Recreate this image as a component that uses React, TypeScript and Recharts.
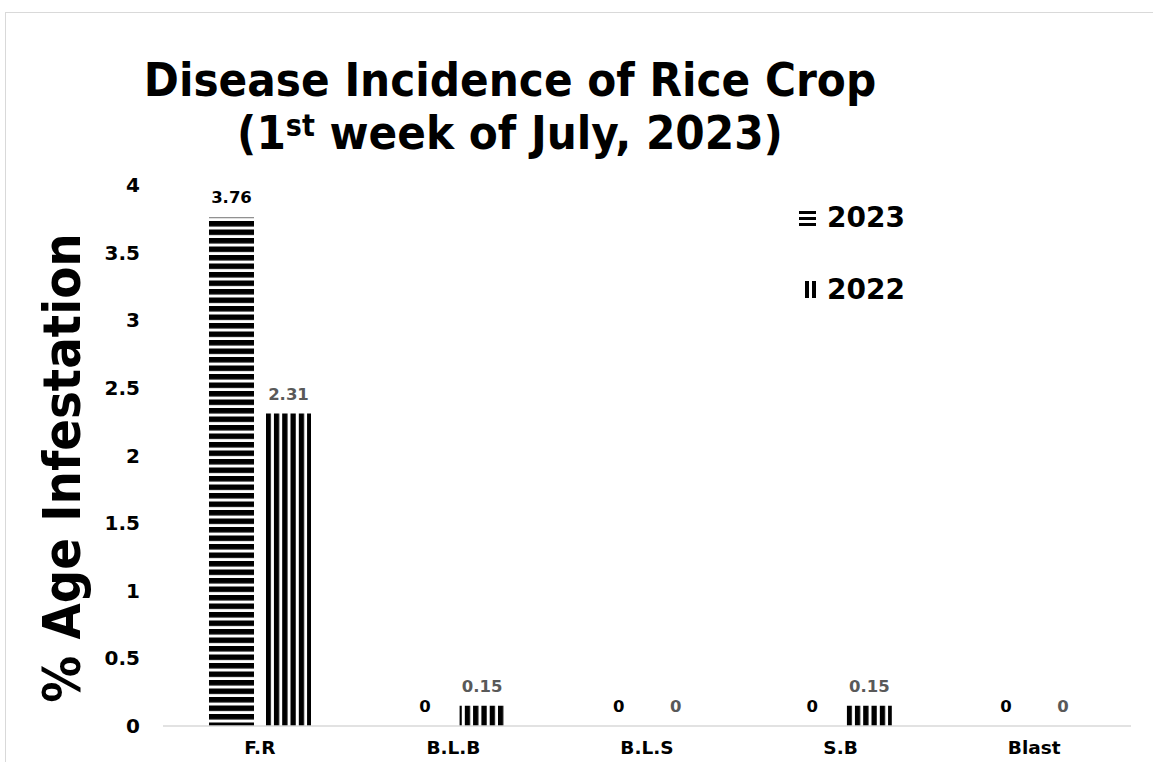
import React from 'react'
import { BarChart, Bar, XAxis, YAxis, LabelList } from 'recharts'

const categories = ['F.R', 'B.L.B', 'B.L.S', 'S.B', 'Blast']
const values2023 = [3.76, 0, 0, 0, 0]
const values2022 = [2.31, 0.15, 0, 0.15, 0]
const yTicks = [0, 0.5, 1, 1.5, 2, 2.5, 3, 3.5, 4]

const data = categories.map((name, i) => ({
  name,
  y2023: values2023[i],
  y2022: values2022[i],
}))

const COND = "'DejaVu Sans Condensed', 'DejaVu Sans', sans-serif"
const WIDE = "'DejaVu Sans', sans-serif"

const LegendBox = () => (
  <div style={{ position: 'absolute', left: 798, top: 197, fontFamily: WIDE, fontWeight: 'bold', fontSize: 28, color: '#000' }}>
    <div style={{ display: 'flex', alignItems: 'center', height: 40 }}>
      <svg width={19} height={17} style={{ marginRight: 10 }}>
        <rect x={1} y={2} width={17} height={3} fill="#000" />
        <rect x={1} y={8} width={17} height={3} fill="#000" />
        <rect x={1} y={14} width={17} height={3} fill="#000" />
      </svg>
      <span>2023</span>
    </div>
    <div style={{ display: 'flex', alignItems: 'center', height: 40, marginTop: 32 }}>
      <svg width={19} height={17} style={{ marginRight: 10 }}>
        <rect x={7} y={0} width={4} height={17} fill="#000" />
        <rect x={14} y={0} width={4} height={17} fill="#000" />
      </svg>
      <span>2022</span>
    </div>
  </div>
)

export default function App() {
  return (
    <div style={{ position: 'absolute', left: 0, top: 0, width: 1153, height: 762, overflow: 'hidden', background: '#fff' }}>
      <div style={{ position: 'absolute', left: 5, top: 12, width: 1200, height: 800, border: '1px solid #d9d9d9' }} />
      <div style={{ position: 'absolute', left: 10, width: 1000, top: 53, textAlign: 'center', fontFamily: COND, fontWeight: 'bold', fontSize: 47, lineHeight: '53px', color: '#000' }}>
        <div>Disease Incidence of Rice Crop</div>
        <div>(1<sup style={{ fontSize: 30, verticalAlign: 'top', lineHeight: '40px' }}>st</sup> week of July, 2023)</div>
      </div>
      <BarChart width={1153} height={762} data={data} margin={{ top: 185, right: 22, bottom: 0, left: 0 }} barSize={45} barGap={12}>
        <defs>
          <pattern id="hstripe" patternUnits="userSpaceOnUse" width={10} height={8.5}>
            <rect x={0} y={0} width={10} height={5.5} fill="#000" />
          </pattern>
          <pattern id="vstripe" patternUnits="userSpaceOnUse" width={8.3} height={10}>
            <rect x={0} y={0} width={5.3} height={10} fill="#000" />
          </pattern>
        </defs>
        <XAxis
          dataKey="name"
          height={36}
          tickSize={0}
          tickMargin={15}
          axisLine={{ stroke: '#d9d9d9', strokeWidth: 1.5 }}
          tickLine={false}
          tick={{ fill: '#000', fontSize: 18.5, fontWeight: 'bold', fontFamily: WIDE }}
        />
        <YAxis
          width={163}
          domain={[0, 4]}
          ticks={yTicks}
          interval={0}
          tickSize={0}
          tickMargin={23}
          axisLine={false}
          tickLine={false}
          tick={{ fill: '#000', fontSize: 20, fontWeight: 'bold', fontFamily: WIDE }}
          label={{
            content: () => (
              <text
                x={80}
                y={468}
                transform="rotate(-90, 80, 468)"
                textAnchor="middle"
                fontFamily={COND}
                fontWeight="bold"
                fontSize={52}
                fill="#000"
              >
                % Age Infestation
              </text>
            ),
          }}
        />
        <Bar dataKey="y2023" name="2023" fill="url(#hstripe)" minPointSize={0.01} isAnimationActive={false}>
          <LabelList dataKey="y2023" position="top" offset={14} fill="#000" fontSize={16.5} fontWeight="bold" fontFamily={WIDE} />
        </Bar>
        <Bar dataKey="y2022" name="2022" fill="url(#vstripe)" minPointSize={0.01} isAnimationActive={false}>
          <LabelList dataKey="y2022" position="top" offset={14} fill="#595959" fontSize={16.5} fontWeight="bold" fontFamily={WIDE} />
        </Bar>
      </BarChart>
      <LegendBox />
    </div>
  )
}
